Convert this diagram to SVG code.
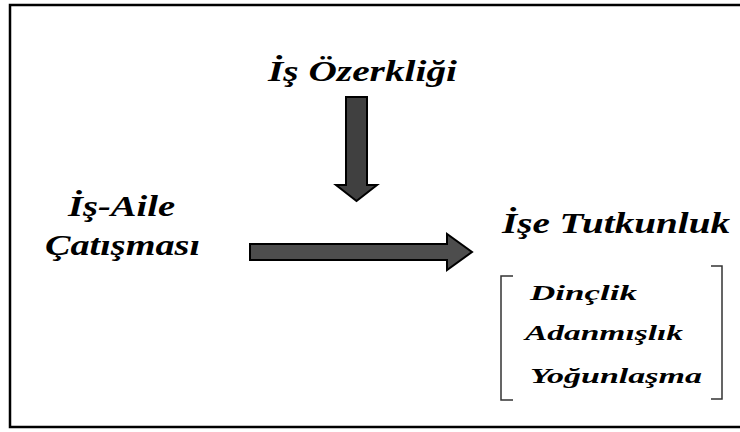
<svg xmlns="http://www.w3.org/2000/svg" width="740" height="432" viewBox="0 0 740 432">
  <style>
    text { font-family: "Liberation Serif", "DejaVu Serif", serif; font-weight: 700; font-style: italic; fill: #000; }
    .title { font-size: 30px; }
    .item { font-size: 22px; }
    .arrow { stroke: #000; stroke-width: 2; stroke-linejoin: miter; }
    .bracket { fill: none; stroke: #333; stroke-width: 1.5; }
  </style>
  <rect x="0" y="0" width="740" height="432" fill="#fff"/>
  <!-- outer frame -->
  <rect x="10" y="5" width="740" height="422" fill="none" stroke="#000" stroke-width="2.5"/>

  <g id="is-ozerkligi">
    <text class="title" x="268" y="81" textLength="189" lengthAdjust="spacingAndGlyphs">İş Özerkliği</text>
  </g>

  <g id="is-aile-catismasi">
    <text class="title" x="68" y="216" textLength="107" lengthAdjust="spacingAndGlyphs">İş-Aile</text>
    <text class="title" x="45" y="255" textLength="155" lengthAdjust="spacingAndGlyphs">Çatışması</text>
  </g>

  <g id="ise-tutkunluk">
    <text class="title" x="502" y="233" textLength="228" lengthAdjust="spacingAndGlyphs">İşe Tutkunluk</text>
    <path class="bracket" d="M513,276 H501 V400 H513"/>
    <path class="bracket" d="M711,266 H722 V399 H711"/>
    <text class="item" x="530" y="300" textLength="107" lengthAdjust="spacingAndGlyphs">Dinçlik</text>
    <text class="item" x="525" y="340" textLength="158" lengthAdjust="spacingAndGlyphs">Adanmışlık</text>
    <text class="item" x="530" y="383" textLength="172" lengthAdjust="spacingAndGlyphs">Yoğunlaşma</text>
  </g>

  <g id="connectors">
    <!-- moderator arrow pointing down -->
    <polygon class="arrow" fill="#404040" points="346,97 367,97 367,185 377,185 356.5,201 336,185 346,185"/>
    <!-- main arrow pointing right -->
    <polygon class="arrow" fill="#4d4d4d" points="250,244 447,244 447,234 472,252 447,270 447,260 250,260"/>
  </g>
</svg>
